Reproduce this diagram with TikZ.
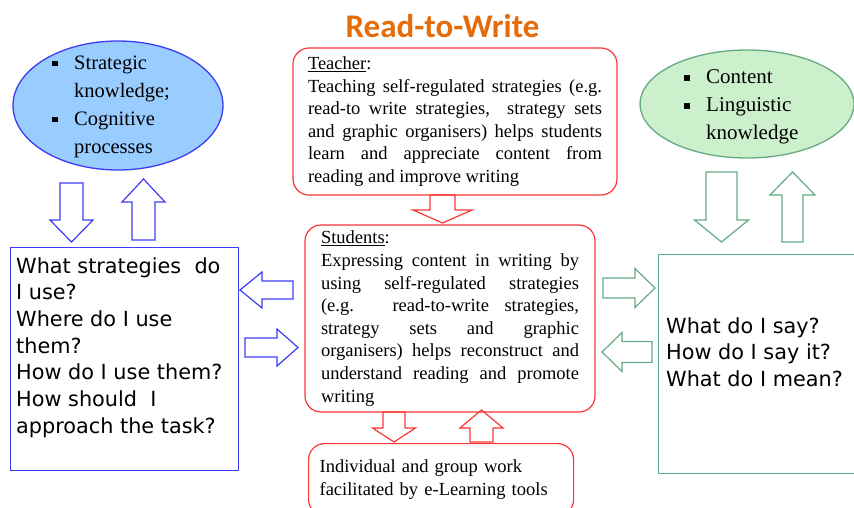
\documentclass[tikz,border=0pt]{standalone}
\usepackage{fontspec}
\setmainfont{Liberation Serif}
\newfontfamily\comicfont{DejaVu Sans}
\newfontfamily\titlefont{Carlito}
\usepackage{tikz}
\usetikzlibrary{shapes.geometric}

\tolerance=9999
\hyphenpenalty=10000
\exhyphenpenalty=10000

\definecolor{rtwblue}{RGB}{60,60,245}
\definecolor{rtwsky}{RGB}{153,204,255}
\definecolor{rtwred}{RGB}{250,55,55}
\definecolor{rtwgreen}{RGB}{100,170,130}
\definecolor{rtwmint}{RGB}{204,240,204}
\definecolor{rtworange}{RGB}{228,108,10}

\newcommand{\sqitem}{\makebox[22pt][l]{\rule[3pt]{5.5pt}{5.5pt}}}
\newcommand{\noitem}{\hspace*{22pt}}

\tikzstyle{roundbox} = [draw=rtwred, line width=1.2pt, rounded corners=16pt, inner sep=0pt, font=\fontsize{18.5}{22.6}\selectfont]
\tikzstyle{bluebox} = [draw=rtwblue, line width=1.3pt, inner sep=0pt]
\tikzstyle{greenbox} = [draw=rtwgreen, line width=1.3pt, inner sep=0pt]
\tikzstyle{question} = [inner sep=0pt, align=left, font=\comicfont\fontsize{20.8}{26.7}\selectfont]
\tikzstyle{bullets} = [inner sep=0pt, align=left, font=\fontsize{20.5}{28}\selectfont]
\tikzstyle{bluearrow} = [color=rtwblue, line width=1.2pt, line join=miter]
\tikzstyle{redarrow} = [color=rtwred, line width=1.2pt, line join=miter]
\tikzstyle{greenarrow} = [color=rtwgreen, line width=1.2pt, line join=miter]

% hollow block arrow pointing along +x: length, half shaft, half head, head length
\tikzset{
	pics/blockarrow/.style n args={4}{code={
		\draw (0,-#2) -- ({#1-#4},-#2) -- ({#1-#4},-#3) -- (#1,0) -- ({#1-#4},#3) -- ({#1-#4},#2) -- (0,#2) -- cycle;
	}}
}

\begin{document}
\begin{tikzpicture} [x=1pt,y=-1pt]

		\useasboundingbox (0,0) rectangle (854,507);
		\fill [white] (0,0) rectangle (854,507);
		\clip (0,0) rectangle (854,507);

		% title
		\node [anchor=base, font=\titlefont\bfseries\fontsize{33}{36}\selectfont, text=rtworange] (title) at (442.5,37) {Read-to-Write};

		% left side
		\node [bluebox, ellipse, fill=rtwsky, minimum width=210pt, minimum height=129pt] (strategic) at (118,105.5) {};
		\node [bullets, anchor=west] (strategictext) at (52,106.5) {\sqitem Strategic\\ \noitem knowledge;\\ \sqitem Cognitive\\ \noitem processes};
		\node [bluebox, anchor=north west, minimum width=228pt, minimum height=223pt] (strategies) at (10,247) {};
		\node [question, anchor=north west] (strategiesq) at (16,257) {What strategies\ \ do\\ I use?\\ Where do I use\\ them?\\ How do I use them?\\ How should\ \ I\\ approach the task?};

		% middle
		\node [roundbox, minimum width=324pt, minimum height=147pt, text width=294pt, align=justify] (teacher) at (455,121.5)
			{\underline{Teacher}:\\ Teaching self-regulated strategies (e.g.\linebreak read-to write strategies,\ \ strategy sets\linebreak and graphic organisers) helps students\linebreak learn and appreciate content from\linebreak reading and improve writing};
		\node [roundbox, minimum width=290pt, minimum height=187pt, text width=258pt, align=justify] (students) at (450,318.5)
			{\underline{Students}:\\ Expressing content in writing by\linebreak using self-regulated strategies\linebreak (e.g. read-to-write strategies,\linebreak strategy sets and graphic\linebreak organisers) helps reconstruct and\linebreak understand reading and promote\linebreak writing};
		\node [roundbox, anchor=north west, minimum width=265pt, minimum height=72pt, text width=243pt, align=left] (groupwork) at (308,443)
			{Individual and group work\\ facilitated by e-Learning tools};

		% right side
		\node [greenbox, ellipse, fill=rtwmint, minimum width=214pt, minimum height=108pt] (knowledge) at (747,104) {};
		\node [bullets, anchor=west, font=\fontsize{21}{28}\selectfont] (knowledgetext) at (684,107) {\sqitem Content\\ \sqitem Linguistic\\ \noitem knowledge};
		\node [greenbox, anchor=north west, minimum width=212pt, minimum height=219pt] (meaning) at (658,254) {};
		\node [question, anchor=north west] (meaningq) at (666,317) {What do I say?\\ How do I say it?\\ What do I mean?};

		% block arrows: x/y/rotation/length/shaft/head/head length
		\foreach \x/\y/\r/\l/\s/\h/\t in {71.5/183/-90/59/11.5/21.5/22, 143.5/240/90/61/11.5/21.5/23, 293/290/180/53/9/18/22, 245/347.5/0/53/9.5/18.5/21}
			\pic [bluearrow, rotate=\r] at (\x,\y) {blockarrow={\l}{\s}{\h}{\t}};
		\foreach \x/\y/\r/\l/\s/\h/\t in {442.5/195/-90/28/12.5/29.5/13, 394/412/-90/30/11/21.5/14, 481.5/442/90/32/11.5/21.5/18}
			\pic [redarrow, rotate=\r] at (\x,\y) {blockarrow={\l}{\s}{\h}{\t}};
		\foreach \x/\y/\r/\l/\s/\h/\t in {721.5/172/-90/70/15.5/27/22, 792.5/242/90/70/10.5/22.5/23, 603/288/0/52/10/19.5/20, 652/352/180/50/10.5/19.5/20}
			\pic [greenarrow, rotate=\r] at (\x,\y) {blockarrow={\l}{\s}{\h}{\t}};

\end{tikzpicture}
\end{document}
